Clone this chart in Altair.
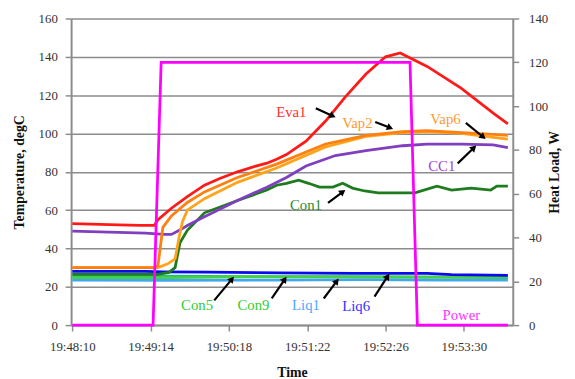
import math
import altair as alt
import pandas as pd

# ---------------- data (seconds after 19:48:10) ----------------
TICK_SECS = [0, 64, 128, 192, 256, 320]
TICK_LABELS = ["19:48:10", "19:49:14", "19:50:18", "19:51:22", "19:52:26", "19:53:30"]
TEMP_TICKS = [0, 20, 40, 60, 80, 100, 120, 140, 160]
LOAD_TICKS = [0, 20, 40, 60, 80, 100, 120, 140]

eva1_t = [0, 30, 55, 67, 70, 81, 94, 108, 121, 135, 150, 159, 167, 175, 183, 191, 207, 223, 240, 256, 268, 290, 318, 344, 356]
eva1_v = [53, 52.5, 52, 52, 55, 61, 67, 73, 76.6, 80, 83, 84.5, 86.5, 89, 92.5, 96, 106.5, 119, 131, 140, 142, 135, 123.5, 110.6, 105]

vap2_t = [0, 40, 67, 70, 74, 81, 94, 108, 135, 167, 207, 240, 270, 290, 318, 344, 356]
vap2_v = [30, 30, 30, 31, 51, 57, 64, 69.5, 77, 84, 94.5, 99, 101, 101.5, 100.5, 99.5, 99]

vap6_t = [0, 40, 70, 78, 84, 87, 90, 94, 108, 135, 167, 207, 240, 270, 290, 318, 344, 356]
vap6_v = [30, 30, 30, 32, 34.5, 45, 54, 60, 66, 74.5, 82, 93, 98.5, 100.5, 101, 100, 98, 97]

cc1_t = [0, 30, 60, 75, 81, 89, 94, 108, 135, 159, 175, 191, 215, 240, 270, 290, 318, 344, 356]
cc1_v = [49, 48.5, 48, 47.3, 47.3, 50, 52, 56.6, 65, 72, 77, 83, 88.5, 91, 93.6, 94.5, 94.5, 94, 92.6]

con1_t = [0, 70, 79, 84, 88, 94, 108, 135, 159, 167, 175, 185, 193, 202, 213, 221, 229, 239, 250, 269, 280, 298, 310, 326, 342, 347, 356]
con1_v = [26.5, 26.5, 27.5, 30, 43, 49.5, 58.6, 65, 70.5, 73, 74, 75.6, 74, 72, 72, 74, 71.5, 70, 69, 69, 69, 72.5, 70.5, 71.5, 70.5, 72.5, 72.5]

liq6_t = [0, 60, 75, 110, 170, 230, 290, 310, 356]
liq6_v = [28, 28, 27.8, 27.6, 27.3, 27, 27, 26.3, 26]

con5_t = [0, 80, 140, 220, 300, 356]
con5_v = [24.8, 24.8, 25.2, 25.2, 25, 25]

con9_t = [0, 80, 140, 220, 300, 356]
con9_v = [25.5, 25.5, 25.3, 25.3, 25, 24.8]

liq1_t = [0, 80, 160, 240, 300, 356]
liq1_v = [23.5, 23.3, 23.5, 23.7, 23.5, 23.5]

power_t = [0, 66, 72.6, 276, 282, 356]
power_v = [0, 0, 120, 120, 0, 0]

# annotation labels (position in data units) and arrows (start -> end)
label_names = ["Eva1", "Vap2", "Vap6", "CC1", "Con1", "Con5", "Con9", "Liq1", "Liq6", "Power"]
label_t = [179, 233, 305, 302, 191, 102, 148, 191, 232, 318]
label_v = [111, 105.5, 107.5, 82.8, 62.8, 10.3, 10.3, 10.3, 9.8, 5.1]
label_colors = ["#FF3030", "#FF9A33", "#FF9A33", "#A040E0", "#2E8B2E",
                "#33CC33", "#33CC33", "#4DA6FF", "#3333FF", "#FF33FF"]

arrow_t1 = [199, 247.6, 321.6, 315, 209, 116, 163, 205.5, 247]
arrow_v1 = [113.2, 106, 105.5, 84.4, 63.8, 12.9, 13.9, 13.9, 14.9]
arrow_t2 = [215, 262, 337.7, 330, 223, 132, 175, 217.6, 259]
arrow_v2 = [108.5, 102.4, 97.2, 93.6, 70.5, 25.2, 25.2, 24.2, 26.7]

# ---------------- layout ----------------
W, H = 448, 311
XMIN, XMAX = -1, 360
TMAX = 160
PX_X = W / (XMAX - XMIN)
PX_Y = H / TMAX
GRAY = "#8C8C8C"
FONT = "Liberation Serif, Times New Roman, serif"

series = [
    ("Liq1", liq1_t, liq1_v, "#40A8F0"),
    ("Con9", con9_t, con9_v, "#20B890"),
    ("Con5", con5_t, con5_v, "#45D045"),
    ("Liq6", liq6_t, liq6_v, "#0A0AF0"),
    ("Con1", con1_t, con1_v, "#1E7B1E"),
    ("CC1", cc1_t, cc1_v, "#7F3FBF"),
    ("Vap6", vap6_t, vap6_v, "#FFA31A"),
    ("Vap2", vap2_t, vap2_v, "#FF7F10"),
    ("Eva1", eva1_t, eva1_v, "#FF1A1A"),
]

label_expr = "[" + ",".join("'%s'" % s for s in TICK_LABELS) + "][round(datum.value/64)]"

x_scale = alt.Scale(domain=[XMIN, XMAX], nice=False, zero=False)
x_axis = alt.Axis(values=TICK_SECS, labelExpr=label_expr, title="Time",
                  grid=False, tickSize=6, tickColor=GRAY, domainColor=GRAY,
                  domainWidth=2, tickWidth=1.5, labelPadding=10, titlePadding=12)
y_axis = alt.Axis(values=TEMP_TICKS, title="Temperature, degC", grid=True,
                  gridColor=GRAY, gridWidth=1.5, tickSize=6, tickColor=GRAY,
                  domainColor=GRAY, domainWidth=2, tickWidth=1.5, labelPadding=8,
                  titlePadding=12)
y_scale = alt.Scale(domain=[0, TMAX], nice=False)


def xe(field):
    return alt.X(field, scale=x_scale, axis=x_axis)


def ye(field):
    return alt.Y(field, scale=y_scale, axis=y_axis)


layers = []
for name, ts, vs, col in series:
    df = pd.DataFrame({"t": ts, "v": vs})
    layers.append(
        alt.Chart(df).mark_line(color=col, strokeWidth=2.8).encode(
            x=xe("t:Q"), y=ye("v:Q")
        )
    )

# labels
lab_df = pd.DataFrame({"t": label_t, "v": label_v, "name": label_names, "col": label_colors})
layers.append(
    alt.Chart(lab_df).mark_text(font=FONT, fontSize=15).encode(
        x=xe("t:Q"), y=ye("v:Q"),
        text="name:N", color=alt.Color("col:N", scale=None)
    )
)

# arrows
rows = []
for a, b, c, d in zip(arrow_t1, arrow_v1, arrow_t2, arrow_v2):
    dx = (c - a) * PX_X
    dy = -(d - b) * PX_Y
    L = math.hypot(dx, dy)
    ang = math.degrees(math.atan2(dx, -dy)) % 360
    back = 3.0
    hx = c - (dx / L) * back / PX_X
    hy = d + (dy / L) * back / PX_Y
    rows.append({"t": a, "v": b, "t2": hx, "v2": hy, "ang": ang})
arr_df = pd.DataFrame(rows)
layers.append(
    alt.Chart(arr_df).mark_rule(color="black", strokeWidth=2.2).encode(
        x=xe("t:Q"), y=ye("v:Q"), x2="t2:Q", y2="v2:Q"
    )
)
layers.append(
    alt.Chart(arr_df).mark_point(shape="triangle-up", filled=True, color="black",
                                 size=55, opacity=1).encode(
        x=xe("t2:Q"), y=ye("v2:Q"),
        angle=alt.Angle("ang:Q", scale=None)
    )
)

temp = alt.layer(*layers)

pw_df = pd.DataFrame({"t": power_t, "p": power_v})
power = alt.Chart(pw_df).mark_line(color="#FF00FF", strokeWidth=2.8).encode(
    x=xe("t:Q"),
    y=alt.Y("p:Q", scale=alt.Scale(domain=[0, 140], nice=False),
            axis=alt.Axis(values=LOAD_TICKS, title="Heat Load, W", orient="right",
                          grid=False, tickSize=6, tickColor=GRAY, domainColor=GRAY,
                          domainWidth=2, tickWidth=1.5, labelPadding=10,
                          titleAngle=270, titlePadding=14))
)

chart = alt.layer(temp, power).resolve_scale(y="independent").properties(
    width=W, height=H,
    autosize=alt.AutoSizeParams(type="none"),
    padding={"left": 64, "top": 8, "right": 55, "bottom": 52},
).configure_view(stroke=None).configure_axis(
    labelFont=FONT, labelFontSize=13, labelColor="#333333",
    titleFont=FONT, titleFontSize=14, titleFontWeight="bold", titleColor="#111111",
)

chart.save("out.html", embed_options={"renderer": "svg", "actions": False})
